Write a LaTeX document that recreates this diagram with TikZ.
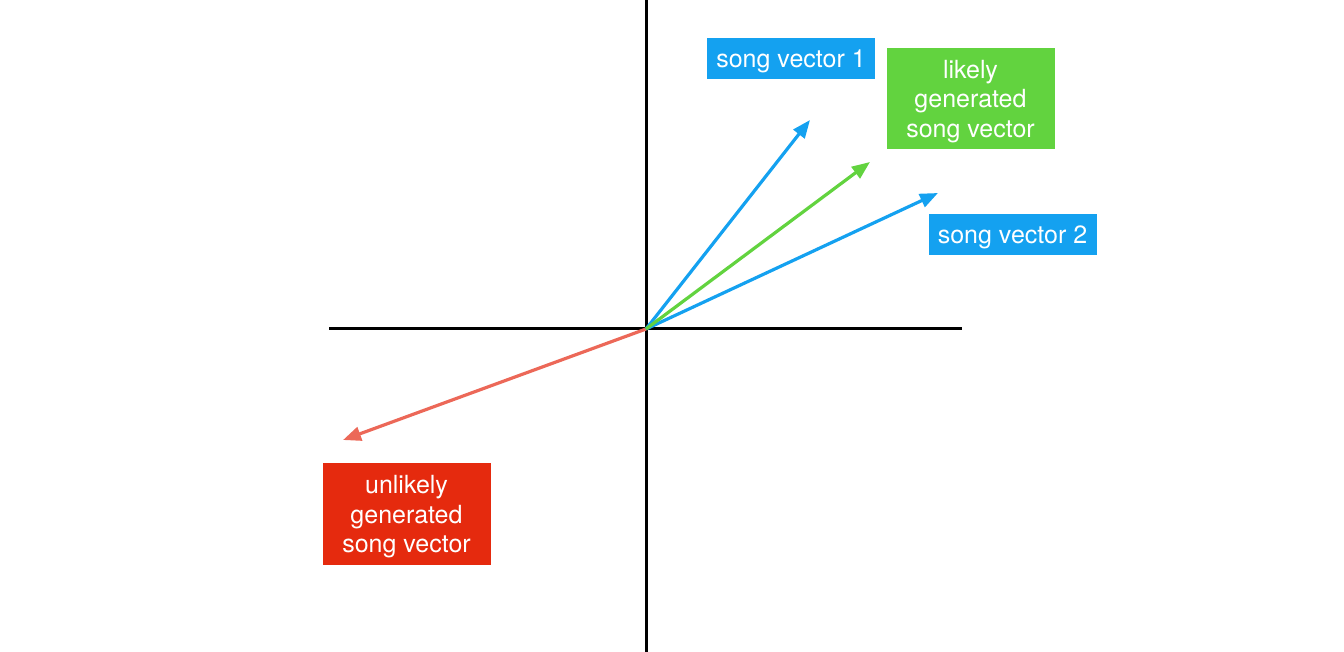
\documentclass[tikz,border=0pt]{standalone}
\usepackage{fontspec}
\setmainfont{TeX Gyre Heros}
\usetikzlibrary{arrows.meta}
\definecolor{songblue}{RGB}{20,161,240}
\definecolor{likelygreen}{RGB}{98,211,63}
\definecolor{unlikelyred}{RGB}{229,42,14}
\definecolor{unlikelyline}{RGB}{236,104,88}
\tikzset{
	axis/.style={line width=1.5pt, black},
	vec/.style={line width=1.6pt, -{Triangle[length=9pt, width=7pt]}},
	labelbox/.style={text=white, font=\fontsize{12.5}{14.8}\selectfont, align=center,
		inner sep=0pt, text depth=0pt, minimum width=84pt, minimum height=20.5pt}
}
\begin{document}
\begin{tikzpicture}[x=0.5pt, y=-0.5pt]
		\useasboundingbox (0,0) rectangle (1344,652);
		% Axes
		\coordinate (top) at (646,0);
		\coordinate (bottom) at (646,652);
		\coordinate (left) at (329,329);
		\coordinate (right) at (962,329);
		\coordinate (O) at (646,329);
		\draw[axis] (top) -- (bottom);
		\draw[axis] (left) -- (right);

		% Vector tips
		\coordinate (tip1) at (810,120);
		\coordinate (tipgood) at (870,162);
		\coordinate (tip2) at (938,193);
		\coordinate (tipbad) at (343,440);

		% Labels
		\node[labelbox, fill=songblue] (song1) at (791,58.5) {song vector 1};
		\node[labelbox, fill=likelygreen, minimum height=50.5pt] (likely) at (970.5,98.5) {likely\\generated\\song vector};
		\node[labelbox, fill=songblue] (song2) at (1012.5,235) {song vector 2};
		\node[labelbox, fill=unlikelyred, minimum height=51pt] (unlikely) at (406.5,514) {unlikely\\generated\\song vector};

		% Vectors
		\draw[vec, unlikelyline] (O) -- (tipbad);
		\draw[vec, songblue] (O) -- (tip1);
		\draw[vec, songblue] (O) -- (tip2);
		\draw[vec, likelygreen] (O) -- (tipgood);
	\end{tikzpicture}
\end{document}
